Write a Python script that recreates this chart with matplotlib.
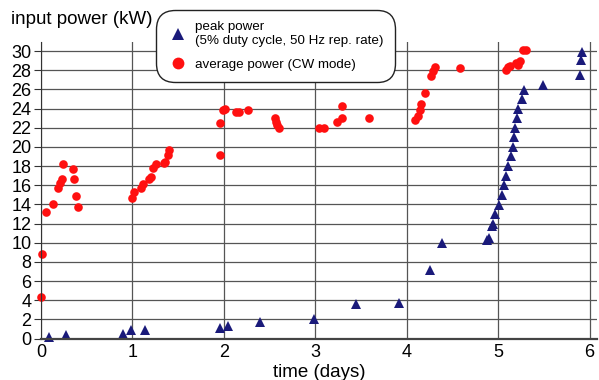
import matplotlib
matplotlib.use("Agg")
import matplotlib.pyplot as plt
from matplotlib.lines import Line2D

plt.rcParams['font.family'] = ['Liberation Sans', 'DejaVu Sans']

# average power (CW mode)
avg_t = [0.00, 0.01, 0.06, 0.13, 0.19, 0.21, 0.23, 0.24, 0.35, 0.36, 0.38, 0.40,
         0.99, 1.02, 1.09, 1.11, 1.18, 1.20, 1.23, 1.26, 1.34, 1.36, 1.39, 1.40,
         1.96, 1.96, 1.99, 2.01, 2.13, 2.17, 2.26, 2.56, 2.57, 2.58, 2.60,
         3.04, 3.09, 3.24, 3.29, 3.29, 3.59,
         4.09, 4.12, 4.14, 4.16, 4.20, 4.26, 4.29, 4.31, 4.58,
         5.08, 5.11, 5.13, 5.19, 5.22, 5.24, 5.27, 5.30]
avg_p = [4.3, 8.8, 13.2, 14.0, 15.7, 16.2, 16.6, 18.2, 17.7, 16.6, 14.9, 13.7,
         14.7, 15.3, 15.7, 16.1, 16.7, 16.9, 17.8, 18.2, 18.3, 18.4, 19.2, 19.7,
         19.2, 22.5, 23.85, 24.0, 23.6, 23.6, 23.8, 23.05, 22.6, 22.3, 22.0,
         22.0, 22.0, 22.6, 23.0, 24.3, 23.0,
         22.8, 23.2, 23.9, 24.5, 25.6, 27.4, 27.9, 28.3, 28.2,
         28.0, 28.3, 28.45, 28.8, 28.55, 29.0, 30.1, 30.1]

# peak power (5% duty cycle, 50 Hz rep. rate)
peak_t = [0.09, 0.27, 0.90, 0.98, 1.14, 1.96, 2.05, 2.40, 2.98, 3.44, 3.91,
          4.25, 4.38, 4.88, 4.90, 4.93, 4.94, 4.97, 5.01, 5.04, 5.06, 5.09,
          5.11, 5.14, 5.16, 5.17, 5.18, 5.20, 5.22, 5.26, 5.28, 5.49,
          5.89, 5.91, 5.92]
peak_p = [0.15, 0.35, 0.45, 0.9, 0.9, 1.1, 1.3, 1.7, 2.0, 3.6, 3.7,
          7.1, 10.0, 10.3, 10.45, 11.7, 12.0, 13.0, 13.9, 15.0, 16.0, 17.0,
          18.0, 19.0, 20.0, 21.0, 22.0, 23.05, 24.0, 25.0, 25.9, 26.5,
          27.5, 29.1, 29.9]

x_ticks = [0, 1, 2, 3, 4, 5, 6]
y_ticks = list(range(0, 31, 2))

fig = plt.figure(figsize=(5.99, 3.80), dpi=100)
ax = fig.add_axes([41/599, 41.5/380, 556/599, 296.5/380])

ax.set_xlim(0, 6.08)
ax.set_ylim(0, 30.95)
ax.set_xticks(x_ticks)
ax.set_yticks(y_ticks)
ax.grid(True, color='#555555', linewidth=0.9)
ax.set_axisbelow(True)
for s in ['top', 'right']:
    ax.spines[s].set_visible(False)
ax.spines['left'].set_color('#333333')
ax.spines['bottom'].set_color('#444444')
ax.spines['bottom'].set_linewidth(1.6)
ax.tick_params(axis='both', labelsize=13, length=5, color='#333333', pad=2)
ax.tick_params(axis='x', length=0, pad=4)

red = '#ff1010'
blue = '#1a1a7a'
ax.plot(avg_t, avg_p, 'o', color=red, markersize=6.2, markeredgewidth=0, clip_on=False)
ax.plot(peak_t, peak_p, '^', color=blue, markersize=6.5, markeredgewidth=0, clip_on=False)

fig.text(11/599, 1 - 20/380, 'input power (kW)', fontsize=13.5, va='center', ha='left')
ax.set_xlabel('time (days)', fontsize=13.5, labelpad=2)

handles = [Line2D([], [], marker='^', linestyle='none', color=blue, markersize=8, markeredgewidth=0),
           Line2D([], [], marker='o', linestyle='none', color=red, markersize=8.5, markeredgewidth=0)]
labels = ['peak power\n(5% duty cycle, 50 Hz rep. rate)', 'average power (CW mode)']
leg = fig.legend(handles, labels, loc='upper left', bbox_to_anchor=(152/599, 1 - 6/380),
                 fontsize=9.6, frameon=True, handletextpad=0.5, borderpad=0.65,
                 labelspacing=0.85, handlelength=1.6)
fr = leg.get_frame()
fr.set_edgecolor('#222222')
fr.set_linewidth(1.0)
fr.set_boxstyle('round,pad=0.2,rounding_size=1.4')
fr.set_alpha(1)

fig.savefig('out.png', dpi=100, facecolor='white')
